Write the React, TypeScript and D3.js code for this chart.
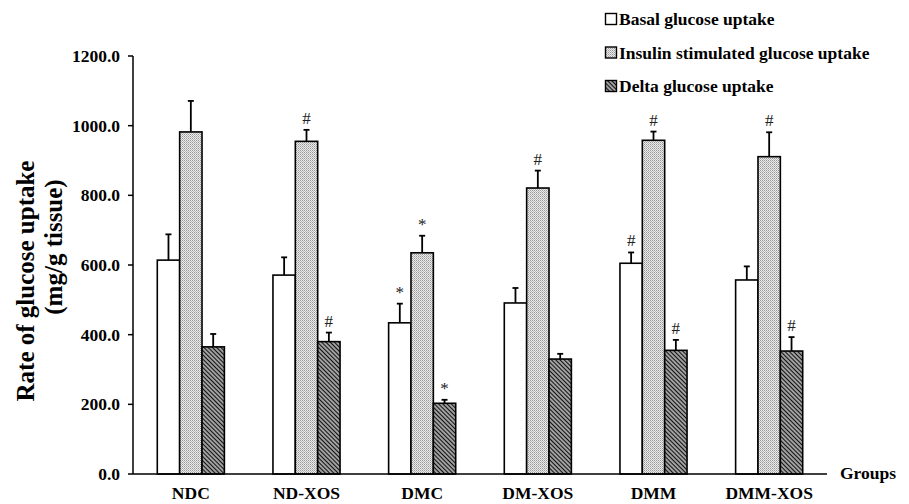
import React from "react";
import * as d3 from "d3";

const groups = ["NDC", "ND-XOS", "DMC", "DM-XOS", "DMM", "DMM-XOS"];
const seriesNames = [
  "Basal glucose uptake",
  "Insulin stimulated glucose uptake",
  "Delta glucose uptake",
];
const basal = [614, 571, 434, 491, 605, 557];
const basalErr = [74, 51, 55, 43, 31, 39];
const insulin = [982, 955, 635, 821, 958, 911];
const insulinErr = [89, 33, 49, 50, 25, 70];
const delta = [365, 380, 203, 330, 355, 353];
const deltaErr = [37, 26, 10, 15, 30, 40];
const basalMarks = ["", "", "*", "", "#", ""];
const insulinMarks = ["", "#", "*", "#", "#", "#"];
const deltaMarks = ["", "#", "*", "", "#", "#"];
const yTicks = [0, 200, 400, 600, 800, 1000, 1200];

const W = 909;
const H = 504;
const FONT = "'Liberation Serif', 'Times New Roman', serif";

export default function App() {
  const x = d3.scaleBand<string>().domain(groups).range([133, 827]).paddingInner(0.42).paddingOuter(0.21);
  const sub = d3.scaleBand<number>().domain([0, 1, 2]).range([0, x.bandwidth()]);
  const y = d3.scaleLinear().domain([0, 1200]).range([474, 56]);
  const fills = ["#ffffff", "url(#pDots)", "url(#pHatch)"];
  const data = [basal, insulin, delta];
  const errs = [basalErr, insulinErr, deltaErr];
  const marks = [basalMarks, insulinMarks, deltaMarks];

  return (
    <svg width={W} height={H} style={{ display: "block", position: "absolute", left: 0, top: 0, background: "#fff" }}>
      <defs>
        <pattern id="pDots" width="2" height="2" patternUnits="userSpaceOnUse">
          <rect width="2" height="2" fill="#ececec" />
          <rect width="1" height="1" fill="#959595" />
          <rect x="1" y="1" width="1" height="1" fill="#b8b8b8" />
        </pattern>
        <pattern id="pHatch" width="3" height="3" patternUnits="userSpaceOnUse" patternTransform="rotate(-45)">
          <rect width="3" height="3" fill="#a0a0a0" />
          <line x1="0" y1="0" x2="0" y2="3" stroke="#111" strokeWidth="2" />
        </pattern>
      </defs>

      {/* bars */}
      {data.map((vals, si) =>
        vals.map((v, gi) => {
          const bx = (x(groups[gi]) as number) + (sub(si) as number);
          const bw = sub.bandwidth();
          const top = y(v);
          const cx = bx + bw / 2;
          const ey = y(v + errs[si][gi]);
          const m = marks[si][gi];
          return (
            <g key={`${si}-${gi}`}>
              <rect x={bx} y={top} width={bw} height={y(0) - top} fill={fills[si]} stroke="#000" strokeWidth={1.6} />
              <line x1={cx} x2={cx} y1={top} y2={ey} stroke="#000" strokeWidth={1.8} />
              <line x1={cx - 3} x2={cx + 3} y1={ey} y2={ey} stroke="#000" strokeWidth={1.8} />
              {m && (
                <text x={cx} y={ey - 6} textAnchor="middle" fontFamily={FONT} fontSize={17} fill="#222">
                  {m}
                </text>
              )}
            </g>
          );
        })
      )}

      {/* y axis */}
      <line x1={133} x2={133} y1={y(1200)} y2={y(0)} stroke="#000" strokeWidth={1.5} />
      {yTicks.map((t) => (
        <g key={t}>
          <line x1={128} x2={133} y1={y(t)} y2={y(t)} stroke="#000" strokeWidth={1.5} />
          <text x={120} y={y(t)} dy="0.35em" textAnchor="end" fontFamily={FONT} fontWeight="bold" fontSize={17.5} fill="#000">
            {t.toFixed(1)}
          </text>
        </g>
      ))}

      {/* x axis */}
      <line x1={133} x2={827} y1={y(0)} y2={y(0)} stroke="#000" strokeWidth={1.5} />
      {groups.map((g) => (
        <text key={g} x={(x(g) as number) + x.bandwidth() / 2} y={499} textAnchor="middle" fontFamily={FONT} fontWeight="bold" fontSize={17.5} fill="#000">
          {g}
        </text>
      ))}
      <text x={840} y={479} fontFamily={FONT} fontWeight="bold" fontSize={17.5} fill="#000">
        Groups
      </text>

      {/* y title */}
      <text transform="translate(25,281) rotate(-90)" textAnchor="middle" dominantBaseline="central" fontFamily={FONT} fontWeight="bold" fontSize={25} fill="#000">
        Rate of glucose uptake
      </text>
      <text transform="translate(53,247) rotate(-90)" textAnchor="middle" dominantBaseline="central" fontFamily={FONT} fontWeight="bold" fontSize={25} fill="#000">
        (mg/g tissue)
      </text>

      {/* legend */}
      {seriesNames.map((n, i) => {
        const cy = 19 + i * 33.5;
        return (
          <g key={n}>
            <rect x={605.5} y={cy - 5.5} width={11} height={11} fill={fills[i]} stroke="#000" strokeWidth={1.4} />
            <text x={619} y={cy} dy="0.35em" fontFamily={FONT} fontWeight="bold" fontSize={17.5} fill="#000">
              {n}
            </text>
          </g>
        );
      })}
    </svg>
  );
}
